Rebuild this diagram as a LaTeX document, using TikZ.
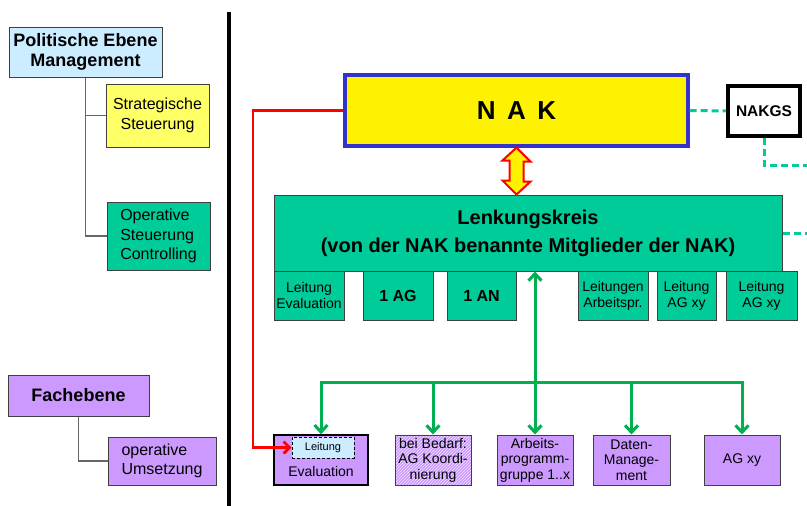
\documentclass[tikz,border=0pt]{standalone}
\usepackage{fontspec}
\setmainfont{Liberation Sans}
\usetikzlibrary{positioning,patterns,arrows.meta}

\definecolor{hellblau}{HTML}{CCECFF}
\definecolor{hellgelb}{HTML}{FFFF66}
\definecolor{tuerkis}{HTML}{00CC99}
\definecolor{lila}{HTML}{CC99FF}
\definecolor{pfeilgruen}{HTML}{00B050}
\definecolor{nakblau}{HTML}{3333CC}

\begin{document}
\begin{tikzpicture}[x=1pt, y=-1pt,
    box/.style={draw=black!75, line width=1pt, inner sep=0pt, align=center,
                font=\fontsize{14}{15.5}\selectfont},
    head/.style={box, font=\bfseries\fontsize{18}{20}\selectfont},
    sub/.style={box, align=left, font=\fontsize{16}{19.5}\selectfont},
    gruen/.style={box, fill=tuerkis},
    lila box/.style={box, fill=lila},
    tree/.style={draw=black!60, line width=1.2pt},
    gs link/.style={draw=tuerkis, line width=3pt, dash pattern=on 7pt off 4pt},
    gruen pfeil/.style={draw=pfeilgruen, line width=3pt,
                        -{Straight Barb[length=7pt,width=13pt]}},
    rot pfeil/.style={draw=red, line width=2.8pt,
                      -{Straight Barb[length=6pt,width=12pt]}},
    dbl pfeil/.style={draw=red, fill=yellow, line width=2pt, line join=miter}]
  \useasboundingbox[fill=white] (0,0) rectangle (807,506);

  % linke Seite: Ebenen
  \node[head, fill=hellblau, minimum width=153, minimum height=50] (pol) at (85.5,52)
       {Politische Ebene\\Management};
  \node[sub, align=center, fill=hellgelb, minimum width=103, minimum height=63] (strat) at (157.5,115.5)
       {Strategische\\Steuerung};
  \node[sub, fill=tuerkis, minimum width=103, minimum height=68] (oper) at (158.5,236)
       {Operative\\Steuerung\\Controlling};
  \node[head, fill=lila, minimum width=141, minimum height=41] (fach) at (78.5,395.5) {Fachebene};
  \node[sub, fill=lila, minimum width=108, minimum height=48] (umsetz) at (162,461)
       {operative\\Umsetzung};

  \draw[tree] (pol.south) |- (strat.west);
  \draw[tree] (pol.south) |- (oper.west);
  \draw[tree] (fach.south) |- (umsetz.west);

  % Trennlinie
  \draw[line width=4pt] (229,12) -- (229,506);

  % rechte Seite
  \node[box, fill=yellow, draw=nakblau, line width=3.2pt, minimum width=343, minimum height=71,
        font=\bfseries\fontsize{26}{28}\selectfont] (nak) at (516.5,110.5) {N\, A\, K};
  \node[box, fill=white, draw=black, line width=4.5pt, minimum width=72, minimum height=50,
        font=\bfseries\fontsize{15.5}{17}\selectfont] (nakgs) at (764,111) {NAKGS};
  \node[gruen, minimum width=508, minimum height=76,
        font=\bfseries\fontsize{20}{28}\selectfont] (lenk) at (528,233)
       {Lenkungskreis\\(von der NAK benannte Mitglieder der NAK)};

  % Doppelpfeil NAK <-> Lenkungskreis
  \draw[dbl pfeil] (nak.south) -- ++(14,14) -- ++(-7,0) -- ++(0,20) -- ++(7,0)
        -- (lenk.north -| nak.south) -- ++(-14,-14) -- ++(7,0) -- ++(0,-20) -- ++(-7,0) -- cycle;

  \coordinate (gs1) at (807,165);
  \coordinate (gs2) at (807,233);
  \draw[gs link] (nak.east) -- (nakgs.west);
  \draw[gs link] (nakgs.south) |- (gs1);
  \draw[gs link] (lenk.east) -- (gs2);

  % Mitglieder im Lenkungskreis
  \node[gruen, minimum width=70, minimum height=49] (le1) at (309,295.5) {Leitung\\Evaluation};
  \node[gruen, minimum width=70, minimum height=49, font=\bfseries\fontsize{16}{18}\selectfont]
       (ag1) at (398,295.5) {1 AG};
  \node[gruen, minimum width=69, minimum height=49, font=\bfseries\fontsize{16}{18}\selectfont]
       (an1) at (481.5,295.5) {1 AN};
  \node[gruen, minimum width=70, minimum height=49] (lap) at (613,296) {Leitungen\\Arbeitspr.};
  \node[gruen, minimum width=59, minimum height=49] (lag1) at (686.5,296) {Leitung\\AG xy};
  \node[gruen, minimum width=71, minimum height=49] (lag2) at (761.5,296) {Leitung\\AG xy};

  % Fachebene unten
  \node[lila box, draw=black, line width=1.6pt, minimum width=94, minimum height=50] (evalb) at (321,460) {};
  \node[box, fill=hellblau, draw=black, densely dashed, minimum width=62, minimum height=21,
        font=\fontsize{11}{12}\selectfont] (leit) at (323,447.5) {Leitung};
  \node[font=\fontsize{14}{15.5}\selectfont, inner sep=0pt] (evaltxt) [above=9pt of evalb.south] {Evaluation};
  \node[box, preaction={fill=lila}, pattern=north east lines, pattern color=white!75!lila,
        minimum width=76, minimum height=50] (bedarf) at (433,460) {bei Bedarf:\\AG Koordi-\\nierung};
  \node[lila box, minimum width=76, minimum height=50] (apg) at (535,460) {Arbeits-\\programm-\\gruppe 1..x};
  \node[lila box, minimum width=77, minimum height=50] (daten) at (631.5,460) {Daten-\\Manage-\\ment};
  \node[lila box, minimum width=76, minimum height=50] (agxy) at (742,460) {AG xy};

  \coordinate (bus) at (535,382);
  \draw[gruen pfeil] (bus) -- (lenk.south -| bus);
  \draw[gruen pfeil] (bus) -| (evalb.north);
  \draw[gruen pfeil] (bus) -| (bedarf.north);
  \draw[gruen pfeil] (bus) -- (apg.north);
  \draw[gruen pfeil] (bus) -| (daten.north);
  \draw[gruen pfeil] (bus) -| (agxy.north);

  \coordinate (rk) at (253,110.5);
  \draw[rot pfeil] (nak.west) -- (rk) |- (leit.west);
\end{tikzpicture}
\end{document}
